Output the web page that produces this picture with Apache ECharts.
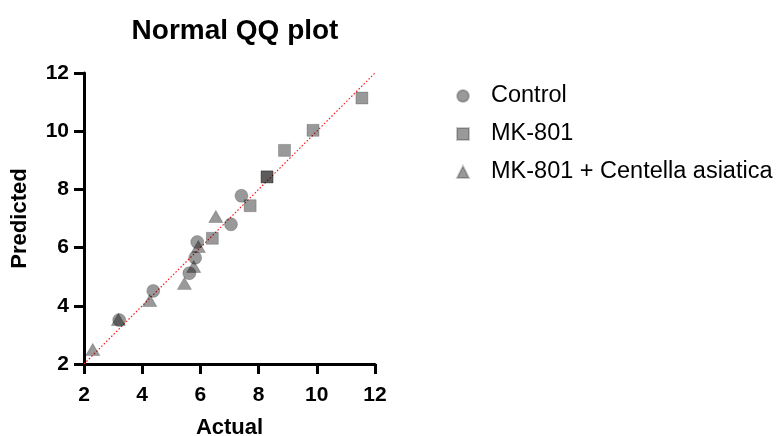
<!DOCTYPE html>
<html><head><meta charset="utf-8">
<script src="https://cdn.jsdelivr.net/npm/echarts@6/dist/echarts.min.js"></script>
<style>html,body{margin:0;padding:0;background:#fff}#c{width:778px;height:436px}</style>
</head><body><div id="c"></div>
<script>
const controlX = [7.41, 7.05, 5.89, 5.82, 5.62, 4.38, 3.21];
const controlY = [7.78, 6.80, 6.19, 5.65, 5.12, 4.51, 3.51];
const mkX = [11.55, 9.87, 8.89, 8.29, 8.29, 7.71, 6.41];
const mkY = [11.14, 10.03, 9.34, 8.43, 8.43, 7.44, 6.32];
const mkcaX = [2.30, 3.18, 4.26, 5.45, 5.77, 5.93, 6.53];
const mkcaY = [2.50, 3.53, 4.18, 4.77, 5.35, 6.04, 7.07];
const refLine = [2, 12];
const xTicks = [2, 4, 6, 8, 10, 12];
const yTicks = [2, 4, 6, 8, 10, 12];

const zip = (a, b) => a.map((v, i) => [v, b[i]]);
const font = 'Liberation Sans, Arial, sans-serif';
const axisCommon = {
  axisLine: {show: true, lineStyle: {color: '#000', width: 3}},
  axisTick: {show: true, length: 10, lineStyle: {color: '#000', width: 3}},
  splitLine: {show: false}
};
const labelStyle = {color: '#000', fontFamily: font, fontWeight: 'bold', fontSize: 21};
const nameStyle = {fontFamily: font, fontWeight: 'bold', fontSize: 22, color: '#000'};
const pointStyle = {color: 'rgba(0,0,0,0.5)', borderColor: 'rgba(0,0,0,0.25)', borderWidth: 1};

const chart = echarts.init(document.getElementById('c'));
chart.setOption({
  animation: false,
  title: {text: 'Normal QQ plot', left: 230, top: 12, textAlign: 'center',
    textStyle: {fontFamily: font, fontWeight: 'bold', fontSize: 28, color: '#000'}},
  grid: {left: 84, right: 403, top: 73, bottom: 72, containLabel: false, outerBoundsMode: 'none'},
  xAxis: Object.assign({type: 'value', min: xTicks[0], max: xTicks[xTicks.length - 1], interval: 2,
    name: 'Actual', nameLocation: 'middle', nameGap: 53, nameTextStyle: nameStyle,
    axisLabel: Object.assign({margin: 21}, labelStyle)}, axisCommon),
  yAxis: Object.assign({type: 'value', min: yTicks[0], max: yTicks[yTicks.length - 1], interval: 2,
    name: 'Predicted', nameLocation: 'middle', nameGap: 53, nameTextStyle: nameStyle,
    axisLabel: Object.assign({margin: 15}, labelStyle)}, axisCommon),
  legend: {
    orient: 'vertical', left: 451, top: 79, itemGap: 14, itemWidth: 12, itemHeight: 12,
    data: ['Control', 'MK-801', 'MK-801 + Centella asiatica'],
    textStyle: {fontFamily: font, fontSize: 23.5, lineHeight: 24, color: '#000', padding: [0, 0, 0, 17]}
  },
  series: [
    {name: 'ref', type: 'line', data: zip(refLine, refLine), symbol: 'none', silent: true,
      lineStyle: {color: '#ff1a1a', width: 1.2, type: [1.5, 2]}, z: 1},
    {name: 'Control', type: 'scatter', symbol: 'circle', symbolSize: 13,
      data: zip(controlX, controlY), itemStyle: pointStyle, z: 3},
    {name: 'MK-801', type: 'scatter', symbol: 'rect', symbolSize: 12,
      data: zip(mkX, mkY), itemStyle: pointStyle, z: 3},
    {name: 'MK-801 + Centella asiatica', type: 'scatter', symbol: 'triangle', symbolSize: [14, 12],
      data: zip(mkcaX, mkcaY), itemStyle: pointStyle, z: 3}
  ]
});
</script></body></html>
